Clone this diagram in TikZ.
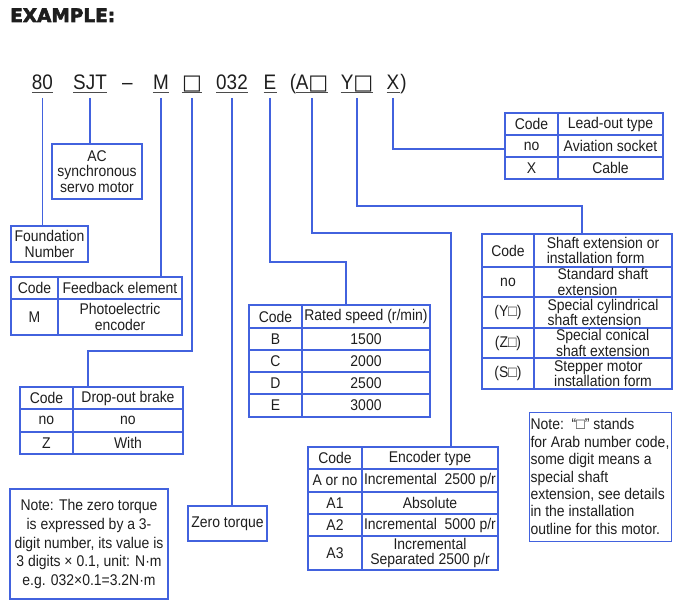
\documentclass[tikz,border=0pt]{standalone}
\usepackage{fontspec}
\setmainfont{Liberation Sans}[FakeStretch=0.9]
\newfontfamily\symfont{DejaVu Sans}
\newfontfamily\titlefont{DejaVu Sans}[BoldFeatures={FakeBold=3}]
\usepackage{xcolor}
\definecolor{lineblue}{RGB}{66,98,222}
\definecolor{inkgray}{RGB}{30,30,30}

\begin{document}
\begin{tikzpicture}[x=1pt, y=-1pt,
    every node/.style = {text=inkgray, font=\fontsize{15.5}{15.5}\selectfont},
    cell/.style = {draw=lineblue, line width=1.1pt, inner sep=0pt, outer sep=0pt,
      anchor=north west, align=center},
    code/.style = {inner sep=0pt, anchor=base, font=\fontsize{21}{22}\selectfont},
    link/.style = {draw=lineblue, line width=1.1pt}]
  \useasboundingbox (0,0) rectangle (690,609);

  % title and type code
  \node[anchor=base west, inner sep=0pt,
    font=\titlefont\fontsize{18.5}{22}\selectfont\bfseries] (title) at (10,22) {EXAMPLE:};
  \node[code] (c80) at (42.5,90) {80};
  \node[code] (csjt) at (90,90) {SJT};
  \node[code] (cdash) at (127.5,90) {--};
  \node[code] (cm) at (161,90) {M};
  \node[code] (cbrk) at (192,90) {{\symfont □}};
  \node[code] (c032) at (232,90) {032};
  \node[code] (ce) at (270,90) {E};
  \node[code] (clp) at (293,90) {(};
  \node[code] (ca) at (312,90) {A{\symfont □}};
  \node[code] (cy) at (357,90) {Y{\symfont □}};
  \node[code] (cx) at (393,90) {X};
  \node[code] (crp) at (403.5,90) {)};
  \foreach \n in {c80,csjt,cm,cbrk,c032,ce,ca,cy,cx}
    \draw[line width=0.8pt, inkgray!80] ([yshift=-2.5pt]\n.base west) -- ([yshift=-2.5pt]\n.base east);

  % plain boxes
  \node[cell, minimum width=90pt, minimum height=55pt] (motor) at (52,144) {AC\\synchronous\\servo motor};
  \node[cell, minimum width=77pt, minimum height=36pt] (found) at (11,226) {Foundation\\Number};
  \node[cell, minimum width=79pt, minimum height=35pt] (zero) at (188,506) {Zero torque};

  % lead-out type
  \node[cell, minimum width=53pt, minimum height=22pt] (lo-c0) at (505,113) {Code};
  \node[cell, minimum width=105pt, minimum height=22pt] (lo-t0) at (558,113) {Lead-out type};
  \node[cell, minimum width=53pt, minimum height=22pt] (lo-c1) at (505,135) {no};
  \node[cell, minimum width=105pt, minimum height=22pt] (lo-t1) at (558,135) {Aviation socket};
  \node[cell, minimum width=53pt, minimum height=22pt] (lo-c2) at (505,157) {X};
  \node[cell, minimum width=105pt, minimum height=22pt] (lo-t2) at (558,157) {Cable};

  % feedback element
  \node[cell, minimum width=47pt, minimum height=22pt] (fb-c0) at (11,277) {Code};
  \node[cell, minimum width=124pt, minimum height=22pt] (fb-t0) at (58,277) {Feedback element};
  \node[cell, minimum width=47pt, minimum height=36pt] (fb-c1) at (11,299) {M};
  \node[cell, minimum width=124pt, minimum height=36pt] (fb-t1) at (58,299) {Photoelectric\\encoder};

  % drop-out brake
  \node[cell, minimum width=53pt, minimum height=22pt] (br-c0) at (20,387) {Code};
  \node[cell, minimum width=110pt, minimum height=22pt] (br-t0) at (73,387) {Drop-out brake};
  \node[cell, minimum width=53pt, minimum height=23pt] (br-c1) at (20,409) {no};
  \node[cell, minimum width=110pt, minimum height=23pt] (br-t1) at (73,409) {no};
  \node[cell, minimum width=53pt, minimum height=22pt] (br-c2) at (20,432) {Z};
  \node[cell, minimum width=110pt, minimum height=22pt] (br-t2) at (73,432) {With};

  % rated speed
  \node[cell, minimum width=53pt, minimum height=23pt] (sp-c0) at (249,305) {Code};
  \node[cell, minimum width=128pt, minimum height=23pt] (sp-t0) at (302,305) {Rated speed (r/min)};
  \node[cell, minimum width=53pt, minimum height=22pt] (sp-c1) at (249,328) {B};
  \node[cell, minimum width=128pt, minimum height=22pt] (sp-t1) at (302,328) {1500};
  \node[cell, minimum width=53pt, minimum height=22pt] (sp-c2) at (249,350) {C};
  \node[cell, minimum width=128pt, minimum height=22pt] (sp-t2) at (302,350) {2000};
  \node[cell, minimum width=53pt, minimum height=22pt] (sp-c3) at (249,372) {D};
  \node[cell, minimum width=128pt, minimum height=22pt] (sp-t3) at (302,372) {2500};
  \node[cell, minimum width=53pt, minimum height=23pt] (sp-c4) at (249,394) {E};
  \node[cell, minimum width=128pt, minimum height=23pt] (sp-t4) at (302,394) {3000};

  % encoder type
  \node[cell, minimum width=54pt, minimum height=22pt] (en-c0) at (308,447) {Code};
  \node[cell, minimum width=136pt, minimum height=22pt] (en-t0) at (362,447) {Encoder type};
  \node[cell, minimum width=54pt, minimum height=23pt] (en-c1) at (308,469) {A or no};
  \node[cell, minimum width=136pt, minimum height=23pt] (en-t1) at (362,469) {Incremental\ \ 2500 p/r};
  \node[cell, minimum width=54pt, minimum height=22pt] (en-c2) at (308,492) {A1};
  \node[cell, minimum width=136pt, minimum height=22pt] (en-t2) at (362,492) {Absolute};
  \node[cell, minimum width=54pt, minimum height=22pt] (en-c3) at (308,514) {A2};
  \node[cell, minimum width=136pt, minimum height=22pt] (en-t3) at (362,514) {Incremental\ \ 5000 p/r};
  \node[cell, minimum width=54pt, minimum height=34pt] (en-c4) at (308,536) {A3};
  \node[cell, minimum width=136pt, minimum height=34pt] (en-t4) at (362,536) {Incremental\\Separated 2500 p/r};

  % shaft extension
  \node[cell, minimum width=52pt, minimum height=33pt] (sh-c0) at (482,234) {Code};
  \node[cell, minimum width=138pt, minimum height=33pt, align=left] (sh-t0) at (534,234) {Shaft extension or\\installation form};
  \node[cell, minimum width=52pt, minimum height=30pt] (sh-c1) at (482,267) {no};
  \node[cell, minimum width=138pt, minimum height=30pt, align=left] (sh-t1) at (534,267) {Standard shaft\\extension};
  \node[cell, minimum width=52pt, minimum height=31pt] (sh-c2) at (482,297) {(Y□)};
  \node[cell, minimum width=138pt, minimum height=31pt, align=left] (sh-t2) at (534,297) {Special cylindrical\\shaft extension};
  \node[cell, minimum width=52pt, minimum height=30pt] (sh-c3) at (482,328) {(Z□)};
  \node[cell, minimum width=138pt, minimum height=30pt, align=left] (sh-t3) at (534,328) {Special conical\\shaft extension};
  \node[cell, minimum width=52pt, minimum height=31pt] (sh-c4) at (482,358) {(S□)};
  \node[cell, minimum width=138pt, minimum height=31pt, align=left] (sh-t4) at (534,358) {Stepper motor\\installation form};

  % notes
  \node[cell, minimum width=158pt, minimum height=110pt, font=\fontsize{15.5}{18.75}\selectfont] (torque-note) at (10,489)
    {Note: The zero torque\\is expressed by a 3-\\digit number, its value is\\3 digits × 0.1, unit: N·m\\e.g. 032×0.1=3.2N·m};
  \node[cell, minimum width=142pt, minimum height=129pt, align=left, line width=0.8pt,
    font=\fontsize{15.5}{17.4}\selectfont] (code-note) at (529,412)
    {Note:\ \ “□” stands\\for Arab number code,\\some digit means a\\special shaft\\extension, see details\\in the installation\\outline for this motor.};

  % connectors
  \coordinate (brk) at (88,351);
  \coordinate (spd) at (346,262);
  \coordinate (enc) at (451,233);
  \coordinate (shf) at (582,206);
  \coordinate (lead) at (505,149);
  \draw[link] ([yshift=-8pt]c80.base) -- (c80 |- found.north);
  \draw[link] ([yshift=-8pt]csjt.base) -- (csjt |- motor.north);
  \draw[link] ([yshift=-8pt]cm.base) -- (cm |- fb-t0.north);
  \draw[link] ([yshift=-8pt]cbrk.base) |- (brk) -- (brk |- br-t0.north);
  \draw[link] ([yshift=-8pt]c032.base) -- (c032 |- zero.north);
  \draw[link] ([yshift=-8pt]ce.base) |- (spd) -- (spd |- sp-t0.north);
  \draw[link] ([yshift=-8pt]ca.base) |- (enc) -- (enc |- en-t0.north);
  \draw[link] ([yshift=-8pt]cy.base) |- (shf) -- (shf |- sh-t0.north);
  \draw[link] ([yshift=-8pt]cx.base) |- (lead);
\end{tikzpicture}
\end{document}
